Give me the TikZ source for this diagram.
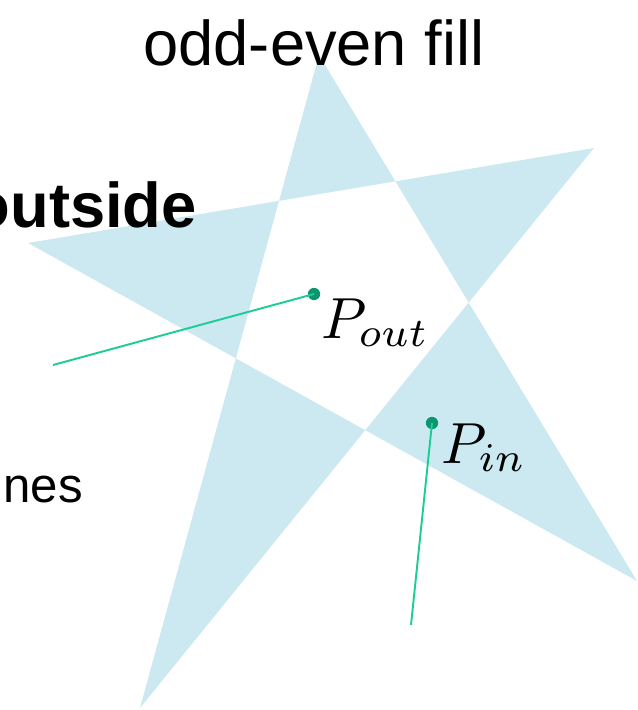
\documentclass[tikz,border=0pt]{standalone}
\usepackage{fontspec}
\setmainfont{Liberation Sans}
\definecolor{starblue}{RGB}{204,233,242}
\definecolor{rayline}{RGB}{30,204,150}
\definecolor{raydot}{RGB}{12,150,112}
\newcommand{\ptlabel}[1]{\scalebox{3.3}{$#1$}}
\tikzset{
    ray/.style={draw=rayline, line width=1.1pt},
    dot/.style={circle, fill=raydot, inner sep=0pt, minimum size=7pt},
    lbl/.style={inner sep=0pt}
}
\begin{document}
\begin{tikzpicture}[x=0.02cm, y=-0.02cm]
    \useasboundingbox (0, 0) rectangle (637, 710);
    
    % Star, odd-even fill
    \fill[starblue, even odd rule] (319, 55) -- (140, 708) -- (594, 148)
        -- (28, 243) -- (637, 581) -- cycle;
    
    % Texts
    \node[anchor=base, inner sep=0pt, font=\fontsize{36}{40}\selectfont] (title) at (314, 65) {odd-even fill};
    \node[anchor=base east, inner sep=0pt, font=\bfseries\fontsize{36}{40}\selectfont] (outside) at (197, 227) {outside};
    \node[anchor=base east, inner sep=0pt, font=\fontsize{28}{32}\selectfont] (lines) at (83, 502) {lines};
    
    % Outside point
    \coordinate (oend) at (53, 365);
    \node[dot] (pout) at (314, 294) {};
    \draw[ray] (oend) -- (pout.center);
    \node[lbl, anchor=base west] (poutlbl) at (321, 338) {\ptlabel{P_{out}}};
    
    % Inside point
    \coordinate (iend) at (411, 625);
    \node[dot] (pin) at (432, 423) {};
    \draw[ray] (iend) -- (pin.center);
    \node[lbl, anchor=base west] (pinlbl) at (441, 463) {\ptlabel{P_{in}}};
\end{tikzpicture}
\end{document}
